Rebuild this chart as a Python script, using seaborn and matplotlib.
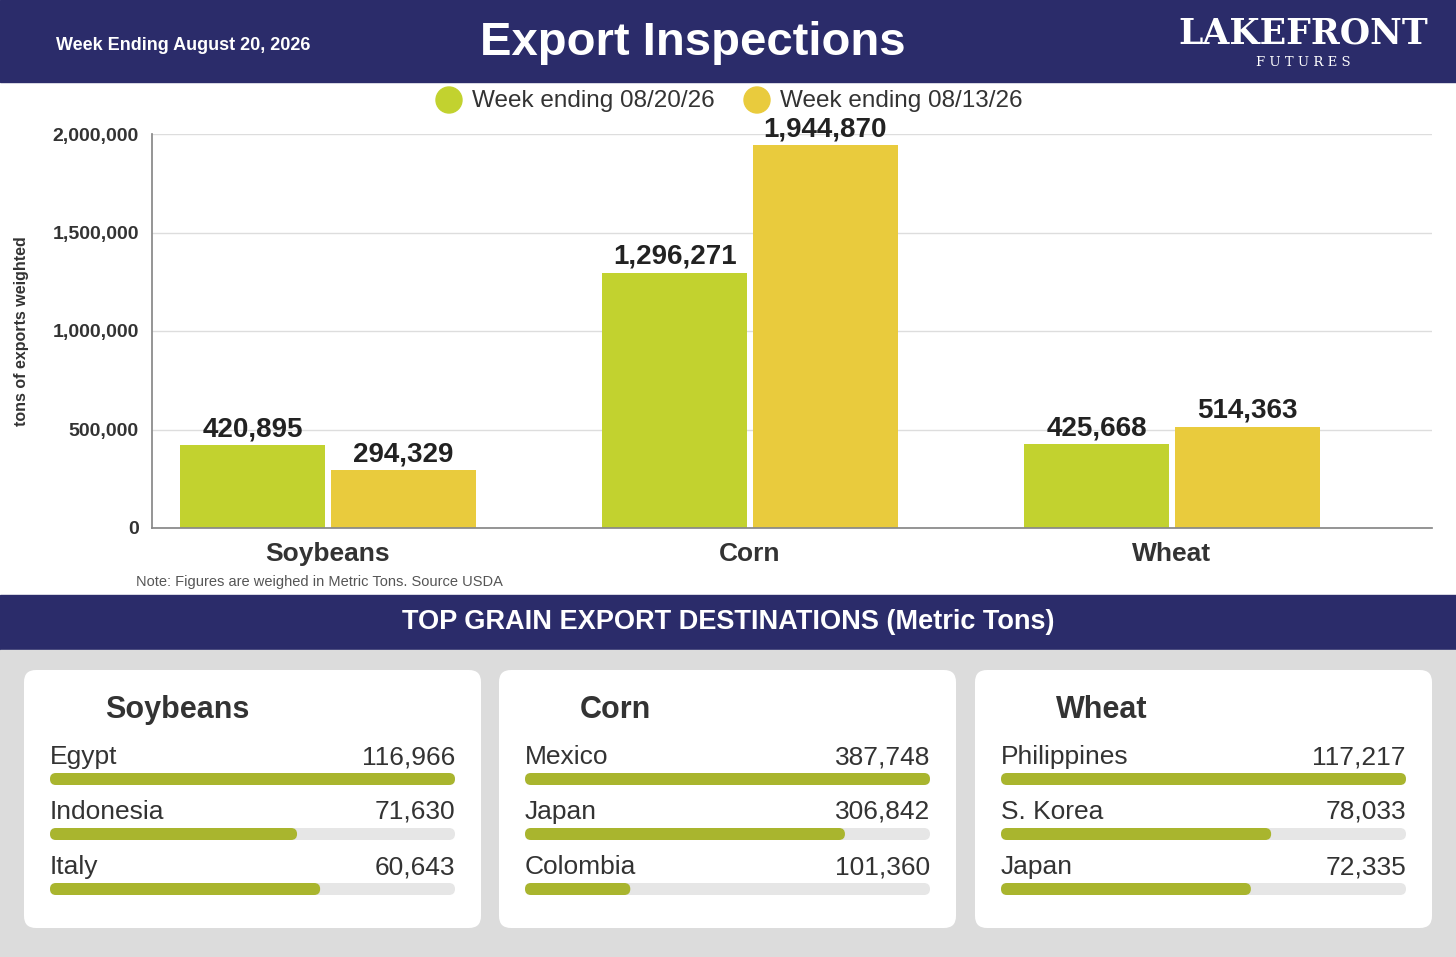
import numpy as np
import pandas as pd
import matplotlib
matplotlib.use("Agg")
import matplotlib.pyplot as plt
from matplotlib.patches import FancyBboxPatch, Rectangle, Circle
import seaborn as sns

sns.set_theme(style="white")
plt.rcParams['font.family'] = ['Liberation Sans', 'DejaVu Sans']

crops = ["Soybeans", "Corn", "Wheat"]
weeks = ["Week ending 08/20/26", "Week ending 08/13/26"]
this_week = [420895, 1296271, 425668]
last_week = [294329, 1944870, 514363]
yticks = [0, 500000, 1000000, 1500000, 2000000]

dest_names = [["Egypt", "Indonesia", "Italy"],
              ["Mexico", "Japan", "Colombia"],
              ["Philippines", "S. Korea", "Japan"]]
dest_vals = [[116966, 71630, 60643],
             [387748, 306842, 101360],
             [117217, 78033, 72335]]
# bar fill fractions as drawn in the reference
dest_fracs = [[1.0, 0.61, 0.667],
              [1.0, 0.79, 0.26],
              [1.0, 0.667, 0.617]]

NAVY = "#2b2c6a"
GREEN = "#c2d22f"
YELLOW = "#e9cb3d"
BARG = "#a9b52e"

W, H = 1456, 957
fig = plt.figure(figsize=(W / 100, H / 100), dpi=100)
bg = fig.add_axes([0, 0, 1, 1])
bg.set_xlim(0, W); bg.set_ylim(H, 0); bg.axis("off")

# header and bands
bg.add_patch(Rectangle((0, 0), W, 82, color=NAVY))
bg.add_patch(Rectangle((0, 595), W, 55, color=NAVY))
bg.add_patch(Rectangle((0, 650), W, H - 650, color="#dcdcdc"))
bg.text(56, 45, "Week Ending August 20, 2026", color="white", fontsize=13, weight="bold", va="center")
bg.text(693, 43, "Export Inspections", color="white", fontsize=34, weight="bold", ha="center", va="center")
bg.text(1303, 33, "LAKEFRONT", color="white", fontsize=25, weight="bold", ha="center", va="center",
        family="DejaVu Serif")
bg.text(1303, 62, "F U T U R E S", color="white", fontsize=9.5, ha="center", va="center", family="DejaVu Serif")
bg.text(728, 622, "TOP GRAIN EXPORT DESTINATIONS (Metric Tons)", color="white", fontsize=19.5,
        weight="bold", ha="center", va="center")
bg.text(136, 582, "Note: Figures are weighed in Metric Tons. Source USDA", color="#555555", fontsize=10.5, va="center")
bg.text(22, 331, "tons of exports weighted", color="#333333", fontsize=11.5, weight="bold",
        rotation=90, ha="center", va="center")

# legend
for cx, col, lab in [(449, GREEN, weeks[0]), (757, YELLOW, weeks[1])]:
    bg.add_patch(Circle((cx, 100), 13, color=col))
    bg.text(cx + 23, 101, lab, fontsize=17.5, color="#333333", va="center")

# cards
cards_x = [24, 499, 975]
for i, x0 in enumerate(cards_x):
    bg.add_patch(FancyBboxPatch((x0, 670), 457, 258, boxstyle="round,pad=0,rounding_size=12",
                                color="white", ec="none"))
    bg.text(x0 + 81, 710, crops[i], fontsize=22, weight="bold", color="#333333", va="center")
    for j in range(3):
        y = 757 + 55 * j
        bg.text(x0 + 26, y, dest_names[i][j], fontsize=19, color="#333333", va="center")
        bg.text(x0 + 431, y, f"{dest_vals[i][j]:,}", fontsize=19, color="#333333", va="center", ha="right")
        bg.add_patch(FancyBboxPatch((x0 + 26, y + 16), 405, 12, boxstyle="round,pad=0,rounding_size=6",
                                    color="#e6e6e6", ec="none"))
        bg.add_patch(FancyBboxPatch((x0 + 26, y + 16), 405 * dest_fracs[i][j], 12,
                                    boxstyle="round,pad=0,rounding_size=6", color=BARG, ec="none"))

# bar chart
ax = fig.add_axes([152 / W, 1 - 528 / H, 1280 / W, (528 - 134) / H])
df = pd.DataFrame({"crop": crops * 2, "tons": this_week + last_week,
                   "week": [weeks[0]] * 3 + [weeks[1]] * 3})
sns.barplot(data=df, x="crop", y="tons", hue="week", palette=[GREEN, YELLOW], saturation=1,
            width=0.715, gap=0.035, ax=ax, legend=False, linewidth=0)
for c in ax.containers:
    ax.bar_label(c, labels=[f"{v:,.0f}" for v in c.datavalues], fontsize=20, weight="bold",
                 color="#222222", padding=2)
left = -(328 - 152) / 422
ax.set_xlim(left, left + 1280 / 422)
ax.set_ylim(0, 2000000)
ax.set_yticks(yticks)
ax.set_yticklabels([f"{v:,}" for v in yticks], fontsize=14, weight="bold", color="#333333")
ax.tick_params(axis="x", labelsize=19, labelcolor="#333333", pad=4)
for t in ax.get_xticklabels():
    t.set_weight("bold")
ax.set_xlabel(""); ax.set_ylabel("")
ax.yaxis.grid(True, color="#dddddd", lw=1)
ax.set_axisbelow(True)
for s in ["top", "right"]:
    ax.spines[s].set_visible(False)
ax.spines["left"].set_color("#888888")
ax.spines["bottom"].set_color("#888888")
ax.set_facecolor("none")

fig.savefig("out.png", dpi=100)
